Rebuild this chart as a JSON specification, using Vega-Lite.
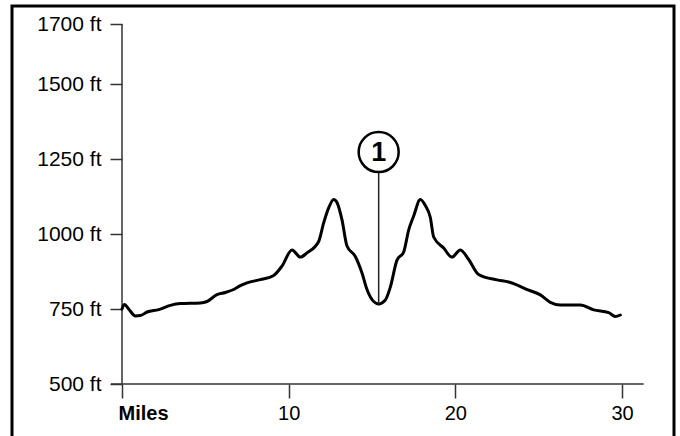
{
  "$schema": "https://vega.github.io/schema/vega-lite/v6.json",
  "width": 662,
  "height": 432,
  "autosize": {"type": "none"},
  "padding": {"left": 12, "top": 6, "right": 6, "bottom": 0},
  "background": "white",
  "config": {
    "view": {"stroke": "black", "strokeWidth": 3},
    "font": "Liberation Sans"
  },
  "datasets": {
    "profile": [
      {"mile": 0, "elev": 750}, {"mile": 0.15, "elev": 765}, {"mile": 0.4, "elev": 750},
      {"mile": 0.8, "elev": 727}, {"mile": 1.1, "elev": 728}, {"mile": 1.5, "elev": 740},
      {"mile": 2.2, "elev": 748}, {"mile": 2.9, "elev": 762}, {"mile": 3.5, "elev": 768},
      {"mile": 4.7, "elev": 770}, {"mile": 5.1, "elev": 775}, {"mile": 5.7, "elev": 798},
      {"mile": 6.2, "elev": 805}, {"mile": 6.7, "elev": 815}, {"mile": 7.1, "elev": 828},
      {"mile": 7.5, "elev": 837}, {"mile": 8.3, "elev": 848}, {"mile": 9.1, "elev": 862},
      {"mile": 9.6, "elev": 893}, {"mile": 10.2, "elev": 947}, {"mile": 10.7, "elev": 923},
      {"mile": 11.1, "elev": 937}, {"mile": 11.8, "elev": 975}, {"mile": 12.1, "elev": 1037},
      {"mile": 12.4, "elev": 1087}, {"mile": 12.7, "elev": 1115}, {"mile": 12.9, "elev": 1105},
      {"mile": 13.2, "elev": 1047}, {"mile": 13.5, "elev": 960}, {"mile": 14.0, "elev": 925},
      {"mile": 14.4, "elev": 870}, {"mile": 14.7, "elev": 815}, {"mile": 15.1, "elev": 775},
      {"mile": 15.4, "elev": 767}, {"mile": 15.8, "elev": 780}, {"mile": 16.1, "elev": 823},
      {"mile": 16.5, "elev": 913}, {"mile": 16.9, "elev": 940}, {"mile": 17.2, "elev": 1013},
      {"mile": 17.5, "elev": 1060}, {"mile": 17.9, "elev": 1115}, {"mile": 18.2, "elev": 1095},
      {"mile": 18.5, "elev": 1055}, {"mile": 18.7, "elev": 990}, {"mile": 19.3, "elev": 953},
      {"mile": 19.8, "elev": 923}, {"mile": 20.3, "elev": 947}, {"mile": 20.8, "elev": 915},
      {"mile": 21.4, "elev": 865}, {"mile": 22.5, "elev": 847}, {"mile": 23.2, "elev": 840},
      {"mile": 24.4, "elev": 813}, {"mile": 25.1, "elev": 797}, {"mile": 25.7, "elev": 772},
      {"mile": 26.3, "elev": 763}, {"mile": 27.5, "elev": 763}, {"mile": 28.3, "elev": 747},
      {"mile": 29.2, "elev": 738}, {"mile": 29.6, "elev": 725}, {"mile": 29.9, "elev": 730}
    ],
    "axisLines": [
      {"mile": 0, "mile2": 0, "elev": 500, "elev2": 1700},
      {"mile": -0.66, "mile2": 31.3, "elev": 500, "elev2": 500}
    ],
    "marker": [
      {"mile": 15.4, "elev": 1273, "elev2": 767, "label": "1"}
    ]
  },
  "encoding": {
    "x": {
      "field": "mile",
      "type": "quantitative",
      "scale": {"domain": [-6.6, 33.12], "nice": false, "zero": false},
      "axis": {
        "orient": "bottom",
        "offset": -54,
        "values": [0, 10, 20, 30],
        "labelExpr": "datum.value == 0 ? 'Miles' : datum.label",
        "domain": false,
        "grid": false,
        "title": null,
        "tickSize": 14,
        "tickWidth": 1.5,
        "tickColor": "#333333",
        "labelFontSize": 20,
        "labelColor": "black",
        "labelPadding": 5,
        "labelAlign": {"condition": {"test": "datum.value == 0", "value": "left"}, "value": "center"},
        "labelFontWeight": {"condition": {"test": "datum.value == 0", "value": "bold"}, "value": "normal"},
        "labelOffset": {"condition": {"test": "datum.value == 0", "value": -4}, "value": 0}
      }
    },
    "y": {
      "field": "elev",
      "type": "quantitative",
      "scale": {"domain": [320, 1760], "nice": false, "zero": false},
      "axis": {
        "orient": "left",
        "offset": -110,
        "values": [500, 750, 1000, 1250, 1500, 1700],
        "labelExpr": "datum.value + ' ft'",
        "domain": false,
        "grid": false,
        "title": null,
        "tickSize": 12,
        "tickWidth": 1.5,
        "tickColor": "#333333",
        "labelFontSize": 21,
        "labelColor": "black",
        "labelPadding": 9
      }
    }
  },
  "layer": [
    {
      "data": {"name": "axisLines"},
      "mark": {"type": "rule", "color": "#333333", "strokeWidth": 1.5},
      "encoding": {
        "x2": {"field": "mile2"},
        "y2": {"field": "elev2"}
      }
    },
    {
      "data": {"name": "profile"},
      "mark": {"type": "line", "color": "black", "strokeWidth": 3, "interpolate": "monotone", "strokeJoin": "round", "strokeCap": "round"}
    },
    {
      "data": {"name": "marker"},
      "mark": {"type": "rule", "color": "#222222", "strokeWidth": 1.5},
      "encoding": {
        "y2": {"field": "elev2"}
      }
    },
    {
      "data": {"name": "marker"},
      "mark": {"type": "point", "shape": "circle", "size": 1600, "filled": true, "fill": "white", "stroke": "black", "strokeWidth": 2.5, "opacity": 1}
    },
    {
      "data": {"name": "marker"},
      "mark": {"type": "text", "fontSize": 27, "fontWeight": "bold", "align": "center", "baseline": "middle", "dy": 1, "color": "black"},
      "encoding": {
        "text": {"field": "label"}
      }
    }
  ]
}
